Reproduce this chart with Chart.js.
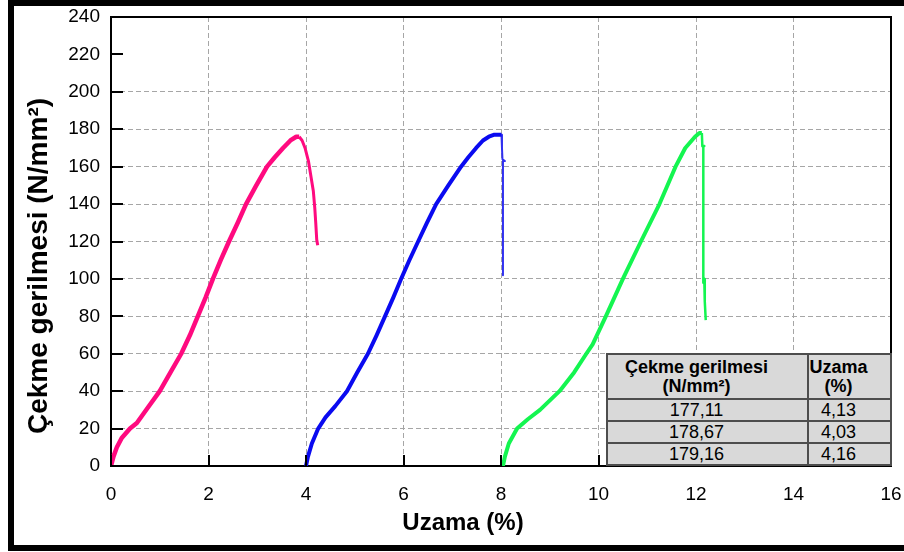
<!DOCTYPE html>
<html>
<head>
<meta charset="utf-8">
<script src="https://cdn.jsdelivr.net/npm/chart.js@4.4.1/dist/chart.umd.min.js"></script>
<style>
  body { margin: 0; background: #fff; }
  #wrap { position: relative; width: 904px; height: 552px; overflow: hidden; }
  #frame {
    position: absolute; left: 8px; top: 0; width: 1000px; height: 551px;
    border: 6px solid #000; border-right: none; box-sizing: border-box; pointer-events: none;
  }
  #tbl {
    position: absolute; left: 606px; top: 353px; width: 286px; height: 113px;
    border-collapse: collapse; background: #d9d9d9;
    font-family: Arial, "Liberation Sans", sans-serif; color: #000;
  }
  #tbl td { border: 2px solid #4d4d4d; text-align: center; padding: 0 22px 0 0; font-size: 18px; line-height: 19px; }
  #tbl tr.head td { font-weight: bold; height: 43px; }
</style>
</head>
<body>
<div id="wrap">
  <canvas id="chart" width="904" height="552"></canvas>
  <table id="tbl"></table>
  <div id="frame"></div>
</div>
<script>
// gerilme-uzama egrileri (3 numune)
const pinkX  = [0, 0.05, 0.12, 0.22, 0.39, 0.53, 0.75, 1.0, 1.22, 1.44, 1.62, 1.78, 1.94, 2.09, 2.25, 2.42, 2.6, 2.77, 2.98, 3.2, 3.36, 3.53, 3.68, 3.8, 3.86];
const pinkY  = [0, 5, 10, 15, 20, 23, 31, 40, 50, 60, 70, 80, 90, 100, 110, 120, 130, 140, 150, 160, 165, 170, 174, 176, 176];
const pinkTailX = [3.86, 3.92, 3.98, 4.05, 4.1, 4.15, 4.18, 4.2, 4.22, 4.24];
const pinkTailY = [176, 174, 170, 163, 155, 147, 138, 130, 121, 118];

const blueX  = [4.0, 4.04, 4.12, 4.25, 4.4, 4.6, 4.84, 5.05, 5.27, 5.45, 5.62, 5.79, 5.95, 6.12, 6.3, 6.48, 6.67, 6.92, 7.18, 7.33, 7.49, 7.63, 7.75, 7.85, 7.95, 8.01];
const blueY  = [0, 5, 12, 20, 26, 32, 40, 50, 60, 70, 80, 90, 100, 110, 120, 130, 140, 150, 160, 165, 170, 174, 176, 177, 177, 177];
const blueTailX = [8.01, 8.02, 8.03, 8.08, 8.04, 8.04];
const blueTailY = [177, 170, 164, 163, 163, 102];

const greenX = [8.04, 8.08, 8.16, 8.33, 8.55, 8.8, 9.2, 9.5, 9.75, 9.88, 10.15, 10.5, 10.87, 11.25, 11.58, 11.78, 11.98, 12.07, 12.12];
const greenY = [0, 5, 12, 20, 25, 30, 40, 50, 60, 65, 80, 100, 120, 140, 160, 170, 176, 178, 178];
const greenTailX = [12.12, 12.13, 12.17, 12.15, 12.15, 12.17, 12.18, 12.2];
const greenTailY = [178, 171, 171, 171, 98, 100, 88, 78];

const xTicks = [0, 2, 4, 6, 8, 10, 12, 14, 16];
const yTicks = [0, 20, 40, 60, 80, 100, 120, 140, 160, 180, 200, 220, 240];

const tableHead = [['Çekme gerilmesi', '(N/mm²)'], ['Uzama', '(%)']];
const tableStress = ['177,11', '178,67', '179,16'];
const tableStrain = ['4,13', '4,03', '4,16'];

const FONT = 'Arial, "Liberation Sans", sans-serif';
Chart.defaults.font.family = FONT;
Chart.defaults.color = '#000';

function pts(xs, ys) {
  return xs.map((v, i) => ({ x: v, y: ys[i] }));
}

// tablo
const tbl = document.getElementById('tbl');
let html = '<tr class="head">' + tableHead.map(h => '<td>' + h[0] + '<br>' + h[1] + '</td>').join('') + '</tr>';
tableStress.forEach((s, i) => {
  html += '<tr><td style="width:177px">' + s + '</td><td>' + tableStrain[i] + '</td></tr>';
});
tbl.innerHTML = html;

// ust/sag cerceve, iceri bakan tick'ler ve eksen basliklari
const decor = {
  id: 'decor',
  afterDraw(chart) {
    const { ctx, scales: { x, y } } = chart;
    const left = x.getPixelForValue(0), right = x.getPixelForValue(16);
    const top = y.getPixelForValue(240), bottom = y.getPixelForValue(0);
    ctx.save();
    ctx.strokeStyle = '#000';
    ctx.lineWidth = 2;
    ctx.beginPath();
    ctx.moveTo(left, top);
    ctx.lineTo(right, top);
    ctx.lineTo(right, bottom);
    yTicks.forEach(v => {
      const py = Math.round(y.getPixelForValue(v));
      ctx.moveTo(left, py);
      ctx.lineTo(left + 12, py);
    });
    xTicks.forEach(v => {
      const px = Math.round(x.getPixelForValue(v));
      ctx.moveTo(px, bottom);
      ctx.lineTo(px, bottom - 11);
    });
    ctx.stroke();

    ctx.fillStyle = '#000';
    ctx.textAlign = 'center';
    ctx.textBaseline = 'alphabetic';
    ctx.font = 'bold 24px ' + FONT;
    ctx.fillText('Uzama (%)', 463, 530);
    ctx.font = 'bold 28px ' + FONT;
    ctx.translate(47, 266);
    ctx.rotate(-Math.PI / 2);
    ctx.fillText('Çekme gerilmesi (N/mm²)', 0, 0);
    ctx.restore();
  }
};

new Chart(document.getElementById('chart'), {
  type: 'line',
  data: {
    datasets: [
      { data: pts(pinkX, pinkY), borderColor: '#ff0a7f', borderWidth: 4.5 },
      { data: pts(pinkTailX, pinkTailY), borderColor: '#ff0a7f', borderWidth: 3 },
      { data: pts(blueX, blueY), borderColor: '#0a0af0', borderWidth: 4 },
      { data: pts(blueTailX, blueTailY), borderColor: '#3030f0', borderWidth: 2 },
      { data: pts(greenX, greenY), borderColor: '#14f550', borderWidth: 4 },
      { data: pts(greenTailX, greenTailY), borderColor: '#14f550', borderWidth: 2.5 }
    ]
  },
  options: {
    responsive: false,
    animation: false,
    devicePixelRatio: 1,
    layout: { padding: { top: 17, right: 13, left: 0, bottom: 0 } },
    elements: { point: { radius: 0 }, line: { tension: 0, borderJoinStyle: 'round' } },
    plugins: { legend: { display: false }, tooltip: { enabled: false } },
    scales: {
      x: {
        type: 'linear', min: 0, max: 16,
        afterFit: (s) => { s.height = 86; s.paddingLeft = 0; s.paddingRight = 0; },
        afterBuildTicks: (s) => { s.ticks = xTicks.map(v => ({ value: v })); },
        ticks: { font: { size: 19 }, padding: 17, maxRotation: 0 },
        grid: {
          drawTicks: false,
          color: (c) => (c.tick && (c.tick.value === 0 || c.tick.value === 16)) ? 'rgba(0,0,0,0)' : '#a6a6a6'
        },
        border: { color: '#000', width: 2, dash: [5, 3] }
      },
      y: {
        type: 'linear', min: 0, max: 240,
        afterFit: (s) => { s.width = 111; s.paddingTop = 0; s.paddingBottom = 0; },
        afterBuildTicks: (s) => { s.ticks = yTicks.map(v => ({ value: v })); },
        ticks: { font: { size: 19 }, padding: 11 },
        grid: {
          drawTicks: false,
          color: (c) => (c.tick && (c.tick.value === 0 || c.tick.value > 200)) ? 'rgba(0,0,0,0)' : '#a6a6a6'
        },
        border: { color: '#000', width: 2, dash: [5, 3] }
      }
    }
  },
  plugins: [decor]
});
</script>
</body>
</html>
